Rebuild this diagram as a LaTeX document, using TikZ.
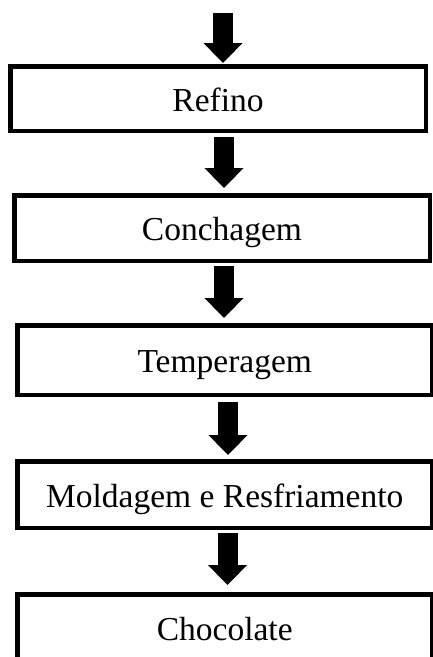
\documentclass[tikz,border=0pt]{standalone}
\usepackage{fontspec}
\setmainfont{Liberation Serif}
\usetikzlibrary{arrows.meta}
\begin{document}
\begin{tikzpicture}[x=1pt,y=-1pt,
  stagebox/.style={draw=black, line width=4.5pt, fill=white, inner sep=0pt, outer sep=0pt,
    minimum height=#1, text height=25pt, text depth=0pt,
    font=\fontsize{33.5}{40}\selectfont},
  flow/.style={line width=20pt, draw=black,
    -{Triangle[width=38pt,length=20pt]}}
]
\useasboundingbox (0,0) rectangle (433,657);
\clip (0,0) rectangle (433,657);

% process stages
\node[stagebox=64.5pt, minimum width=415.5pt] (r1) at (218,98.5) {Refino};
\node[stagebox=65.5pt, minimum width=415.5pt] (r2) at (222,228) {Conchagem};
\node[stagebox=69.5pt, minimum width=415pt] (r3) at (224.75,360) {Temperagem};
\node[stagebox=66.5pt, minimum width=415pt] (r4) at (224.75,494.5) {Moldagem e Resfriamento};
\node[stagebox=67.5pt, minimum width=415pt] (r5) at (224.75,628) {Chocolate};

% incoming flow
\coordinate (in) at (223,13);

% block arrows between stages
\draw[flow] (in) -- ([xshift=5pt,yshift=3.25pt]r1.north);
\draw[flow] ([xshift=6pt,yshift=-6.25pt]r1.south) -- ([xshift=2pt,yshift=7.25pt]r2.north);
\draw[flow] ([xshift=2pt,yshift=-5.25pt]r2.south) -- ([xshift=-0.75pt,yshift=7.25pt]r3.north);
\draw[flow] ([xshift=3.25pt,yshift=-7.25pt]r3.south) -- ([xshift=3.25pt,yshift=6.25pt]r4.north);
\draw[flow] ([xshift=2.75pt,yshift=-5.25pt]r4.south) -- ([xshift=2.75pt,yshift=9.25pt]r5.north);
\end{tikzpicture}
\end{document}
